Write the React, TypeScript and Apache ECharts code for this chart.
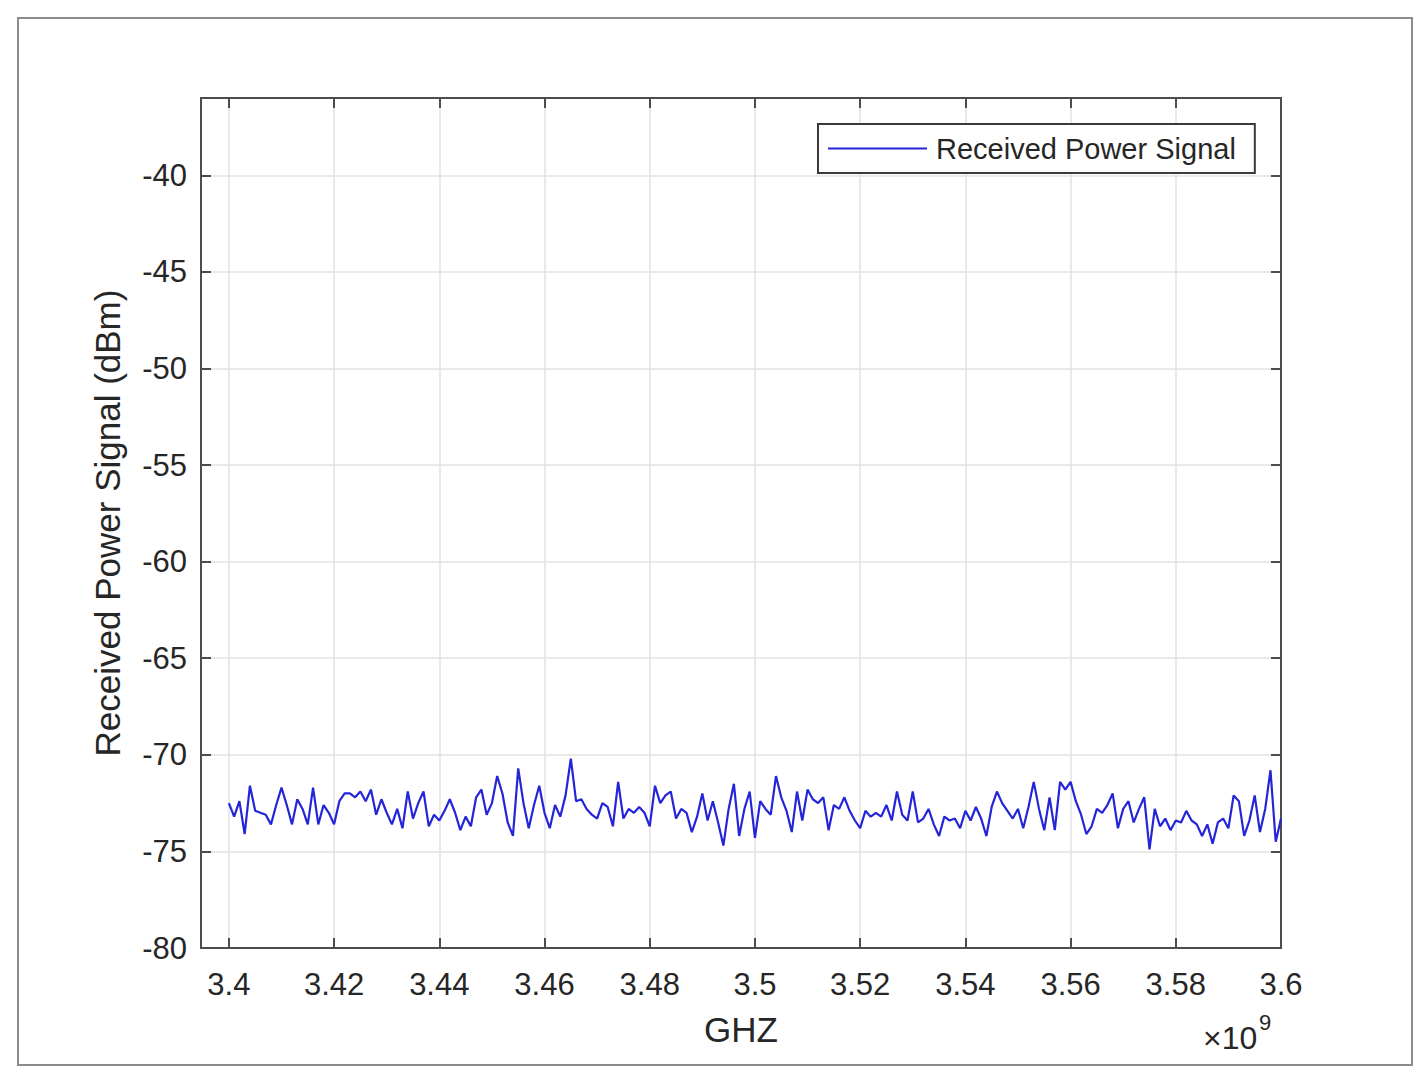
import React, { useEffect, useRef } from "react";
import * as echarts from "echarts";

const seriesName = "Received Power Signal";
const xAxisTitle = "GHZ";
const yAxisTitle = "Received Power Signal (dBm)";
const exponentBase = "×10";
const exponentPower = "9";

// frequency sampling (MHz): 3400 .. 3600, 1 MHz step
const startMHz = 3400;
const stepMHz = 1;
const xRangeMHz = [3394.7, 3600];
const xTickStepMHz = 20;
const yRange = [-80, -36];
const yTickStep = 5;

// received power (dBm), one value per MHz
const powerDbm = [
  -72.5, -73.2, -72.4, -74.1, -71.6, -72.9, -73.0, -73.1, -73.6, -72.6,
  -71.7, -72.6, -73.6, -72.3, -72.8, -73.6, -71.7, -73.6, -72.6, -73.0,
  -73.6, -72.4, -72.0, -72.0, -72.2, -71.9, -72.4, -71.8, -73.1, -72.3,
  -73.0, -73.6, -72.8, -73.8,
  -71.9, -73.3, -72.5, -71.9, -73.7, -73.1, -73.4, -72.9, -72.3, -73.0,
  -73.9, -73.2, -73.7, -72.2, -71.8, -73.1, -72.5, -71.1, -72.0, -73.5,
  -74.2, -70.7, -72.5, -73.8, -72.6, -71.6, -73.0, -73.8, -72.6, -73.2,
  -72.1, -70.2, -72.4,
  -72.3, -72.8, -73.1, -73.3, -72.5, -72.7, -73.7, -71.4, -73.3, -72.8,
  -73.0, -72.7, -73.0, -73.7, -71.6, -72.5, -72.1, -71.9, -73.3, -72.8,
  -73.0, -74.0, -73.2, -72.0, -73.4, -72.4, -73.5, -74.7, -72.8, -71.5,
  -74.2, -72.8, -71.9,
  -74.3, -72.4, -72.8, -73.1, -71.1, -72.2, -72.9, -74.0, -71.9, -73.4,
  -71.8, -72.3, -72.5, -72.2, -73.9, -72.6, -72.8, -72.2, -72.9, -73.4,
  -73.8, -72.9, -73.2, -73.0, -73.2, -72.6, -73.4, -71.9, -73.1, -73.4,
  -71.9, -73.5, -73.3,
  -72.8, -73.6, -74.2, -73.2, -73.4, -73.3, -73.8, -72.9, -73.4, -72.7,
  -73.3, -74.2, -72.7, -71.9, -72.5, -72.9, -73.3, -72.8, -73.8, -72.7,
  -71.4, -72.8, -73.9, -72.2, -73.9, -71.4, -71.8, -71.4, -72.4, -73.1,
  -74.1, -73.7, -72.8,
  -73.0, -72.6, -72.0, -73.8, -72.8, -72.4, -73.5, -72.8, -72.2, -74.9,
  -72.8, -73.7, -73.3, -73.9, -73.4, -73.5, -72.9, -73.4, -73.6, -74.2,
  -73.6, -74.6, -73.5, -73.3, -73.8, -72.1, -72.4, -74.2, -73.4, -72.1,
  -74.0, -72.8, -70.8, -74.5, -73.3,
];

const FONT = "'Liberation Sans', Arial, Helvetica, sans-serif";
const AXIS_COLOR = "#4d4d4d";
const TEXT_COLOR = "#262626";
const GRID_COLOR = "#e2e2e2";
const LINE_COLOR = "#2424d8";

export default function App() {
  const ref = useRef<HTMLDivElement>(null);

  useEffect(() => {
    document.body.style.margin = "0";
    const chart = echarts.init(ref.current!, null, { renderer: "svg" });
    const data = powerDbm.map((v, i) => [startMHz + i * stepMHz, v]);

    const xLabel = (v: number) =>
      Math.abs(v % xTickStepMHz) < 1e-6 ? String(Number((v / 1000).toFixed(2))) : "";
    const yLabel = (v: number) =>
      Math.abs(v % yTickStep) < 1e-6 ? String(v) : "";

    const commonX = {
      type: "value" as const,
      min: xRangeMHz[0],
      max: xRangeMHz[1],
      splitNumber: 10,
      minInterval: xTickStepMHz,
      maxInterval: xTickStepMHz,
      axisLine: { show: true, onZero: false, lineStyle: { color: AXIS_COLOR, width: 2 } },
      axisTick: { show: true, inside: true, length: 10, lineStyle: { color: AXIS_COLOR, width: 2 } },
    };
    const commonY = {
      type: "value" as const,
      min: yRange[0],
      max: yRange[1],
      interval: yTickStep,
      axisLine: { show: true, onZero: false, lineStyle: { color: AXIS_COLOR, width: 2 } },
      axisTick: { show: true, inside: true, length: 10, lineStyle: { color: AXIS_COLOR, width: 2 } },
    };

    chart.setOption({
      animation: false,
      backgroundColor: "#ffffff",
      textStyle: { fontFamily: FONT },
      grid: { left: 201, top: 98, right: 136, bottom: 137, containLabel: false },
      xAxis: [
        {
          ...commonX,
          position: "bottom",
          name: xAxisTitle,
          nameLocation: "middle",
          nameGap: 64,
          nameTextStyle: { fontSize: 35, color: TEXT_COLOR, fontFamily: FONT },
          axisLabel: {
            fontSize: 31,
            color: TEXT_COLOR,
            margin: 21,
            fontFamily: FONT,
            formatter: xLabel,
            showMinLabel: false,
          },
          splitLine: { show: true, lineStyle: { color: GRID_COLOR, width: 1.5 } },
        },
        {
          ...commonX,
          position: "top",
          axisLabel: { show: false },
          splitLine: { show: false },
        },
      ],
      yAxis: [
        {
          ...commonY,
          position: "left",
          name: yAxisTitle,
          nameLocation: "middle",
          nameGap: 76,
          nameTextStyle: { fontSize: 35, color: TEXT_COLOR, fontFamily: FONT },
          axisLabel: {
            fontSize: 31,
            color: TEXT_COLOR,
            margin: 14,
            fontFamily: FONT,
            formatter: yLabel,
            showMaxLabel: false,
          },
          splitLine: { show: true, lineStyle: { color: GRID_COLOR, width: 1.5 } },
        },
        {
          ...commonY,
          position: "right",
          axisLabel: { show: false },
          splitLine: { show: false },
        },
      ],
      legend: {
        data: [seriesName],
        left: 818,
        top: 124,
        backgroundColor: "#ffffff",
        borderColor: "#3a3a3a",
        borderWidth: 2,
        borderRadius: 0,
        padding: [8, 19, 8, 10],
        icon: "rect",
        itemWidth: 99,
        itemHeight: 2,
        itemStyle: { color: LINE_COLOR },
        textStyle: {
          fontSize: 29,
          lineHeight: 33,
          color: TEXT_COLOR,
          fontFamily: FONT,
          padding: [0, 0, 0, 4],
        },
      },
      series: [
        {
          name: seriesName,
          type: "line",
          xAxisIndex: 0,
          yAxisIndex: 0,
          symbol: "none",
          data,
          lineStyle: { color: LINE_COLOR, width: 2.2 },
          itemStyle: { color: LINE_COLOR },
        },
      ],
      graphic: [
        {
          type: "rect",
          shape: { x: 18, y: 18, width: 1394, height: 1047 },
          style: { fill: "none", stroke: "#8c8c8c", lineWidth: 2 },
          silent: true,
        },
        {
          type: "text",
          x: 1203,
          y: 1022,
          style: { text: exponentBase, fontSize: 32, fill: TEXT_COLOR, fontFamily: FONT },
        },
        {
          type: "text",
          x: 1259,
          y: 1011,
          style: { text: exponentPower, fontSize: 22, fill: TEXT_COLOR, fontFamily: FONT },
        },
      ],
    });

    return () => chart.dispose();
  }, []);

  return <div ref={ref} style={{ width: 1417, height: 1085 }} />;
}
